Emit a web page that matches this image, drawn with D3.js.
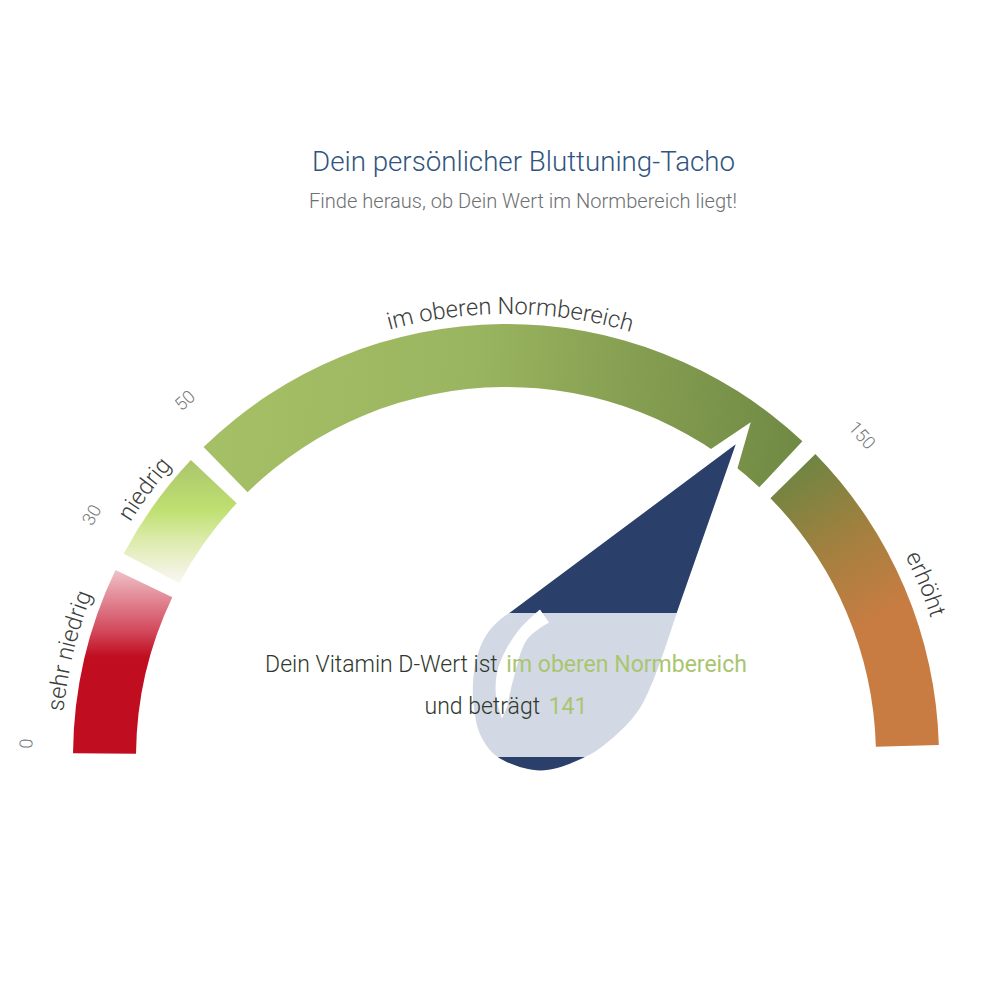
<!DOCTYPE html>
<html><head><meta charset="utf-8">
<script src="https://cdn.jsdelivr.net/npm/d3@7/dist/d3.min.js"></script>
<style>html,body{margin:0;background:#fff}svg{display:block}text{font-family:Roboto,sans-serif;font-weight:300}</style>
</head><body><svg id="c" width="1000" height="1000"></svg>
<script>
const title = "Dein persönlicher Bluttuning-Tacho";
const subtitle = "Finde heraus, ob Dein Wert im Normbereich liegt!";
const thresholds = [0, 30, 50, 150, 200];
const tickValues = [0, 30, 50, 150];
const segmentLabels = ["sehr niedrig", "niedrig", "im oberen Normbereich", "erhöht"];
const currentValue = 141;
const currentLabel = "im oberen Normbereich";

const cx = 506, cy = 757, rOuter = 433, rInner = 370;
const rad = d => d * Math.PI / 180;
const angle = d3.scaleLinear().domain(thresholds).range([-89.5, -63.2, -45.5, 44.4, 88.4]);
const svg = d3.select("#c");
const defs = svg.append("defs");

function grad(id, x1, y1, x2, y2, stops) {
  const g = defs.append("linearGradient").attr("id", id).attr("gradientUnits", "userSpaceOnUse")
    .attr("gradientTransform", `translate(${-cx},${-cy})`)
    .attr("x1", x1).attr("y1", y1).attr("x2", x2).attr("y2", y2);
  stops.forEach(s => g.append("stop").attr("offset", s[0]).attr("stop-color", s[1]));
}
grad("g0", 0, 571, 0, 657, [[0, "#efc0c6"], [0.35, "#e08390"], [0.7, "#d2485b"], [1, "#c10d20"]]);
grad("g1", 0, 600, 0, 460, [[0, "#ffffff"], [0.14, "#f9f5ef"], [0.43, "#dcebab"], [0.64, "#bfe071"], [1, "#aac56c"]]);
grad("g2", 200, 400, 800, 450, [[0, "#a6c066"], [0.45, "#9ab560"], [0.7, "#869f52"], [1, "#708a44"]]);
grad("g3", 790, 470, 880, 620, [[0, "#6f8542"], [0.5, "#a2803f"], [1, "#c97c42"]]);

const arc = d3.arc().innerRadius(rInner).outerRadius(rOuter);
const segs = d3.pairs(thresholds);
const gap = 1.2;
svg.append("g").attr("transform", `translate(${cx},${cy})`).selectAll("path").data(segs).join("path")
  .attr("d", (d, i) => arc({
    startAngle: rad(angle(d[0]) + (i ? gap : 0)),
    endAngle: rad(angle(d[1]) - (i < segs.length - 1 ? gap : 0))
  }))
  .attr("fill", (d, i) => `url(#g${i})`);

// segment labels on curved paths
const labelShift = [0, 0.9, 1.1, 1.2], labelRadius = [445, 443, 443, 447];
segs.forEach((d, i) => {
  const mid = (angle(d[0]) + angle(d[1])) / 2 + labelShift[i];
  const p = d3.path();
  p.arc(cx, cy, labelRadius[i], rad(mid - 45 - 90), rad(mid + 45 - 90));
  defs.append("path").attr("id", "lp" + i).attr("d", p.toString());
  svg.append("text").attr("font-size", 23.7).attr("fill", "#3b3f3d").attr("text-anchor", "middle")
    .append("textPath").attr("href", "#lp" + i).attr("startOffset", "50%").text(segmentLabels[i]);
});

// tick labels
svg.append("g").selectAll("text").data(tickValues).join("text")
  .attr("font-size", 18).attr("fill", "#77797b").attr("text-anchor", "middle").attr("dy", "0.35em")
  .attr("transform", d => {
    const a = angle(d) + (d === 0 ? 1.1 : 3.5), r = 480;
    const x = cx + r * Math.sin(rad(a)), y = cy - r * Math.cos(rad(a));
    return `translate(${x},${y}) rotate(${a})`;
  }).text(d => d);

// needle: outline in its own frame, tip at origin, pointing up
const a = angle(currentValue), tipR = 388;
const tx = cx + tipR * Math.sin(rad(a)), ty = cy - tipR * Math.cos(rad(a));
const needleT = `translate(${tx},${ty}) rotate(${a})`;
const bulb = [[52.1,170.2],[73,238.1],[79.2,274.4],[74.5,310.2],[64.2,340.2],[35.5,378.6],[-7.4,392.9],[-32.1,386.3],[-53.8,368.7],[-70.6,347.6],[-82.8,324.3],[-88,302],[-86.4,282.2],[-82.3,269.2]];
const curve = d3.line().curve(d3.curveCatmullRom.alpha(0.5));
const dropD = "M0,0L" + curve(bulb).slice(1) + "Z";
const haloD = d3.line()([[-1,-26.6],[-28.6,50],[27.3,50]]) + "Z";
const hlOuter = [[-60,249],[-64.6,274.8],[-63.6,301.4],[-57.2,325.2],[-43.8,345.2],[-25.9,359.4]];
const hlInner = [[-28.9,346.7],[-41.1,318.4],[-52.6,280.9],[-44.9,254.2]];
const hlD = curve(hlOuter) + "L" + curve(hlInner).slice(1) + "Z";

const bandTop = cy - 144, bandBottom = cy;
const bands = [[0, bandTop, "#2b3f6b"], [bandTop, bandBottom, "#d3d9e4"], [bandBottom, 1000, "#2b3f6b"]];
svg.append("path").attr("d", haloD).attr("transform", needleT).attr("fill", "#fff");
bands.forEach((b, i) => {
  defs.append("clipPath").attr("id", "band" + i).append("rect").attr("x", 0).attr("width", 1000).attr("y", b[0]).attr("height", b[1] - b[0]);
  svg.append("g").attr("clip-path", `url(#band${i})`).append("path")
    .attr("d", dropD).attr("transform", needleT).attr("fill", b[2]);
});
svg.append("path").attr("d", hlD).attr("transform", needleT).attr("fill", "#fff");

// titles
svg.append("text").attr("x", 523.5).attr("y", 171).attr("text-anchor", "middle").attr("font-size", 27.7)
  .attr("fill", "#2f5480").text(title);
svg.append("text").attr("x", 523).attr("y", 208).attr("text-anchor", "middle").attr("font-size", 20.1)
  .attr("fill", "#6d6f72").text(subtitle);

// readout
const dark = "#2f382d", green = "#a9c66f";
const l1 = svg.append("text").attr("x", 506).attr("y", 671.5).attr("text-anchor", "middle").attr("font-size", 23).attr("fill", dark);
l1.append("tspan").text("Dein Vitamin D-Wert ist ");
l1.append("tspan").attr("fill", green).attr("dx", 3).style("font-weight", 400).text(currentLabel);
const l2 = svg.append("text").attr("x", 506).attr("y", 713.5).attr("text-anchor", "middle").attr("font-size", 23).attr("fill", dark);
l2.append("tspan").text("und beträgt ");
l2.append("tspan").attr("fill", green).attr("dx", 3).style("font-weight", 400).text(currentValue);
</script></body></html>
